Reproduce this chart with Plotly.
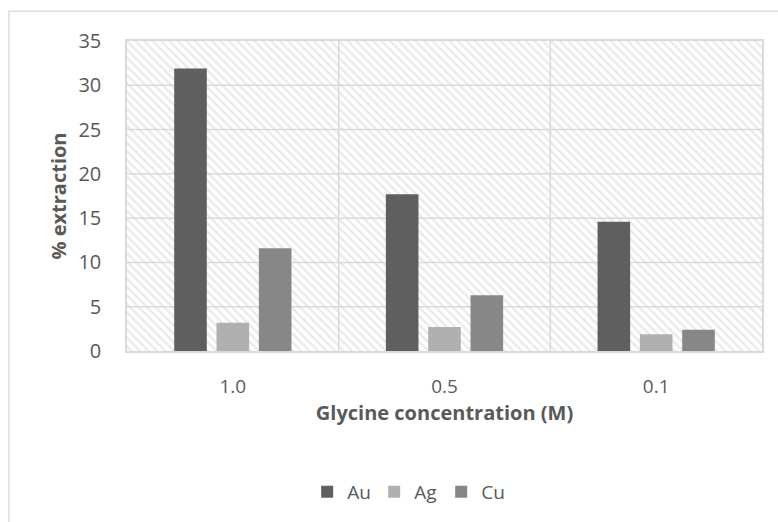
import plotly.graph_objects as go

# Extraction of metals at different glycine concentrations
concentrations = ["1.0", "0.5", "0.1"]
au = [31.9, 17.7, 14.6]
ag = [3.2, 2.7, 1.9]
cu = [11.6, 6.3, 2.4]

y_max = 35
y_step = 5
grid_values = list(range(y_step, y_max, y_step))

FONT = "Open Sans"
TEXT = "#595959"
GRID = "#d9d9d9"

fig = go.Figure()

# Hatched plot background (base subplot, drawn first)
fig.add_trace(go.Bar(
    x=[0.5], y=[y_max], width=[1], base=[0],
    marker=dict(color="white", line=dict(width=0),
                pattern=dict(shape="\\", fgcolor="#d4d4d4", bgcolor="white",
                             size=6, solidity=0.4)),
    hoverinfo="skip", showlegend=False, xaxis="x", yaxis="y",
))

# Gridlines drawn over the hatch, below the bars
gx, gy = [], []
for v in grid_values:
    gx += [0, 1, None]
    gy += [v, v, None]
n = len(concentrations)
for i in range(1, n):
    gx += [i / n, i / n, None]
    gy += [0, y_max, None]
fig.add_trace(go.Scatter(
    x=gx, y=gy, mode="lines", line=dict(color=GRID, width=1.5),
    hoverinfo="skip", showlegend=False, xaxis="x", yaxis="y",
))

series = [("Au", au, "#5f5f5f"), ("Ag", ag, "#b0b0b0"), ("Cu", cu, "#878787")]
for name, vals, color in series:
    fig.add_trace(go.Bar(
        x=concentrations, y=vals, name=name,
        marker=dict(color=color, line=dict(width=0)),
        xaxis="x2", yaxis="y2",
    ))

fig.update_layout(
    width=778, height=522,
    margin=dict(l=127, r=16, t=41, b=170),
    paper_bgcolor="white", plot_bgcolor="white",
    font=dict(family=FONT, color=TEXT, size=19),
    barmode="group", bargap=0.4, bargroupgap=0.23,
    xaxis=dict(range=[0, 1], visible=False, fixedrange=True),
    yaxis=dict(range=[0, y_max], visible=False, fixedrange=True),
    xaxis2=dict(
        overlaying="x", anchor="y2", side="bottom", type="category",
        showgrid=False, showline=True, linecolor=GRID, linewidth=1.5, mirror=True,
        ticks="", ticklabelstandoff=17,
        tickfont=dict(size=19, color=TEXT, family=FONT),
        title=dict(text="<b>Glycine concentration (M)</b>", standoff=7,
                   font=dict(size=20, color=TEXT, family=FONT)),
    ),
    yaxis2=dict(
        overlaying="y", anchor="x2", range=[0, y_max], dtick=y_step,
        showgrid=False, zeroline=False, showline=True, linecolor=GRID,
        linewidth=1.5, mirror=True, ticks="", ticklabelstandoff=20,
        tickfont=dict(size=20, color=TEXT, family=FONT),
        title=dict(text="<b>% extraction</b>", standoff=6,
                   font=dict(size=20, color=TEXT, family=FONT)),
    ),
    legend=dict(orientation="h", x=0.442, xanchor="center", y=-0.45,
                yanchor="middle", entrywidth=22, itemwidth=30,
                font=dict(size=19, color=TEXT, family=FONT),
                itemclick=False, itemdoubleclick=False),
    shapes=[dict(type="rect", xref="paper", yref="paper",
                 x0=-0.186, x1=1.1, y0=-0.6, y1=1.0965,
                 line=dict(color=GRID, width=1.3), layer="below")],
)

fig.write_html("out.html")
